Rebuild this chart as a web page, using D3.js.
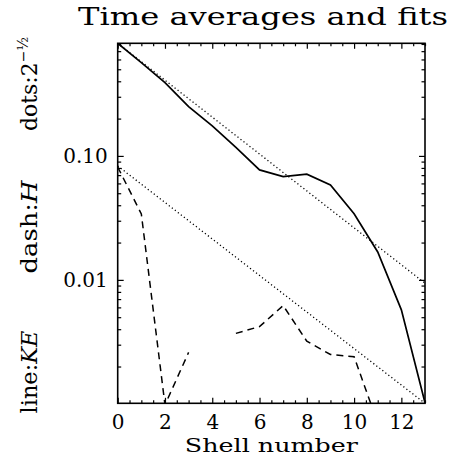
<!DOCTYPE html>
<html>
<head>
<meta charset="utf-8">
<script src="https://cdn.jsdelivr.net/npm/d3@7"></script>
<style>
  body { margin: 0; background: #fff; }
</style>
</head>
<body>
<svg id="fits"></svg>
<script>
// shell index along the x axis
const shells = [0, 1, 2, 3, 4, 5, 6, 7, 8, 9, 10, 11, 12, 13]
// line: kinetic energy, time averaged
const keValues = [0.811, 0.566, 0.39, 0.25, 0.175, 0.117, 0.0771, 0.0681, 0.0712, 0.0584, 0.0341, 0.0168, 0.00573, 0.00102]
// dash: helicity (null = negative, not drawn on a log axis)
const hValues = [0.0814, 0.034, 0.00098, 0.0026, null, 0.0037, 0.0042, 0.0062, 0.0032, 0.0025, 0.0024, 0.0007, null, null]
// dots: the two fitted lines, given by their end points
const fitShells = [0, 13]
const fitUpper = [0.81, 0.0094]
const fitLower = [0.083, 0.00101]

const xTickValues = [0, 2, 4, 6, 8, 10, 12]
const yTickValues = [0.01, 0.1]
const yTickLabels = ['0.01', '0.10']

const margin = { top: 43.3, left: 117.7, right: 40, bottom: 68.7 }
const width = 465 - margin.left - margin.right
const height = 472 - margin.top - margin.bottom
const serif = 'DejaVu Serif'

const root = d3.select('#fits')
  .attr('width', 465)
  .attr('height', 472)

const svg = root.append('g')
  .attr('transform', 'translate(' + margin.left + ',' + margin.top + ')')

/// Scales////////////////////////////////
const xScale = d3.scaleLinear().domain([0, 13]).range([0, width])
const yScale = d3.scaleLog().domain([0.00101, 0.81]).range([height, 0])

svg.append('clipPath')
  .attr('id', 'plot-clip')
  .append('rect')
  .attr('width', width)
  .attr('height', height)

/// axes, ticks pointing in on all four sides
const xMinor = d3.range(0, 13.01, 0.5).filter(d => d % 2 !== 0)
const yMinor = yScale.ticks().filter(d => !yTickValues.some(t => Math.abs(t - d) < 1e-9))

function styleAxis(g) {
  g.select('.domain').remove()
  g.selectAll('line').attr('stroke', '#000').attr('stroke-width', 1.2)
  g.selectAll('text')
    .attr('font-family', serif)
    .attr('font-size', 20)
    .attr('fill', '#000')
}

svg.append('g')
  .attr('transform', 'translate(0,' + height + ')')
  .call(d3.axisBottom(xScale).tickValues(xTickValues).tickSize(-5.5).tickPadding(11.5).tickFormat(d => d))
  .call(styleAxis)
svg.append('g')
  .attr('transform', 'translate(0,' + height + ')')
  .call(d3.axisBottom(xScale).tickValues(xMinor).tickSize(-3).tickFormat(''))
  .call(styleAxis)
svg.append('g')
  .call(d3.axisTop(xScale).tickValues(xTickValues).tickSize(-5.5).tickFormat(''))
  .call(styleAxis)
svg.append('g')
  .call(d3.axisTop(xScale).tickValues(xMinor).tickSize(-3).tickFormat(''))
  .call(styleAxis)

svg.append('g')
  .call(d3.axisLeft(yScale).tickValues(yTickValues).tickSize(-6).tickPadding(10)
    .tickFormat((d, i) => yTickLabels[i]))
  .call(styleAxis)
svg.append('g')
  .call(d3.axisLeft(yScale).tickValues(yMinor).tickSize(-3.5).tickFormat(''))
  .call(styleAxis)
svg.append('g')
  .attr('transform', 'translate(' + width + ',0)')
  .call(d3.axisRight(yScale).tickValues(yTickValues).tickSize(-6).tickFormat(''))
  .call(styleAxis)
svg.append('g')
  .attr('transform', 'translate(' + width + ',0)')
  .call(d3.axisRight(yScale).tickValues(yMinor).tickSize(-3.5).tickFormat(''))
  .call(styleAxis)

// frame
svg.append('rect')
  .attr('width', width)
  .attr('height', height)
  .attr('fill', 'none')
  .attr('stroke', '#000')
  .attr('stroke-width', 1.6)

/// lines ////////////////////////////////
const plot = svg.append('g').attr('clip-path', 'url(#plot-clip)')

const line = d3.line()
  .defined(d => d[1] != null && d[1] > 0)
  .x(d => xScale(d[0]))
  .y(d => yScale(d[1]))

plot.append('path')
  .datum(fitShells.map((s, i) => [s, fitUpper[i]]))
  .attr('d', line)
  .attr('fill', 'none')
  .attr('stroke', '#000')
  .attr('stroke-width', 1.3)
  .attr('stroke-dasharray', '1.2,2.6')

plot.append('path')
  .datum(fitShells.map((s, i) => [s, fitLower[i]]))
  .attr('d', line)
  .attr('fill', 'none')
  .attr('stroke', '#000')
  .attr('stroke-width', 1.3)
  .attr('stroke-dasharray', '1.2,2.6')

plot.append('path')
  .datum(shells.map((s, i) => [s, hValues[i]]))
  .attr('d', line)
  .attr('fill', 'none')
  .attr('stroke', '#000')
  .attr('stroke-width', 1.5)
  .attr('stroke-dasharray', '7,5')

plot.append('path')
  .datum(shells.map((s, i) => [s, keValues[i]]))
  .attr('d', line)
  .attr('fill', 'none')
  .attr('stroke', '#000')
  .attr('stroke-width', 1.7)

/// text labels ////////////////////////////////
root.append('text')
  .attr('x', 263)
  .attr('y', 25)
  .attr('text-anchor', 'middle')
  .attr('font-family', serif)
  .attr('font-size', 24)
  .attr('textLength', 370)
  .attr('lengthAdjust', 'spacingAndGlyphs')
  .text('Time averages and fits')

root.append('text')
  .attr('x', margin.left + width / 2)
  .attr('y', 452)
  .attr('text-anchor', 'middle')
  .attr('font-family', serif)
  .attr('font-size', 19)
  .attr('textLength', 173)
  .attr('lengthAdjust', 'spacingAndGlyphs')
  .text('Shell number')

function yTitle(cy, len, parts) {
  const t = root.append('text')
    .attr('transform', 'translate(37,' + cy + ') rotate(-90)')
    .attr('text-anchor', 'middle')
    .attr('font-family', serif)
    .attr('font-size', 22)
  if (len) t.attr('textLength', len).attr('lengthAdjust', 'spacingAndGlyphs')
  parts.forEach(p => {
    const s = t.append('tspan').text(p.text)
    if (p.italic) s.attr('font-style', 'italic')
    if (p.size) s.attr('font-size', p.size)
    if (p.dy) s.attr('dy', p.dy)
  })
}

yTitle(372, 83, [{ text: 'line:' }, { text: 'KE', italic: true }])
yTitle(227, 93, [{ text: 'dash:' }, { text: 'H', italic: true }])
yTitle(84, null, [{ text: 'dots:2' }, { text: '\u2212\u00bd', size: 14, dy: -9 }])
</script>
</body>
</html>
